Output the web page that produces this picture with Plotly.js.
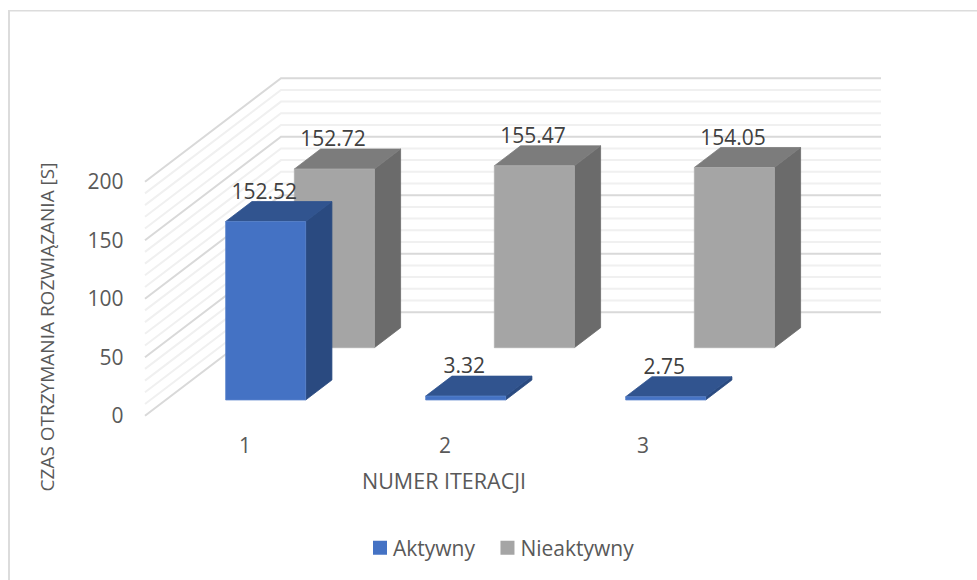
<!DOCTYPE html>
<html><head><meta charset="utf-8">
<script src="https://cdn.plot.ly/plotly-3.0.1.min.js"></script>
<style>html,body{margin:0;padding:0;background:#fff;overflow:hidden}#c{width:977px;height:580px}</style>
</head><body><div id="c"></div>
<script>
const categories = ['1','2','3'];
const seriesNames = ['Aktywny','Nieaktywny'];
const aktywny = [152.52,3.32,2.75];
const nieaktywny = [152.72,155.47,154.05];
const valueTicks = [0,50,100,150,200];
const minorTicks = [10,20,30,40,60,70,80,90,110,120,130,140,160,170,180,190];

// oblique projection of the 3D box into the x/y axes
const DX = 136/200, DY = 103.5/1.17;   // shift of the back wall, in axis units
const BAR = 0.4;                        // bar width in category units
const proj = (c,v,d) => [c + DX*d, v + DY*d];
function poly(pts){ const o={x:[],y:[]}; pts.forEach(p=>{o.x.push(p[0]);o.y.push(p[1]);}); o.x.push(pts[0][0],null); o.y.push(pts[0][1],null); return o; }
function merge(list){ return {x:[].concat(...list.map(p=>p.x)), y:[].concat(...list.map(p=>p.y))}; }
function faces(vals,d0,d1){
  const front=[],side=[],top=[];
  vals.forEach((v,i)=>{
    const a=i+0.5-BAR/2,b=i+0.5+BAR/2;
    front.push(poly([proj(a,0,d0),proj(b,0,d0),proj(b,v,d0),proj(a,v,d0)]));
    side.push(poly([proj(b,0,d0),proj(b,0,d1),proj(b,v,d1),proj(b,v,d0)]));
    top.push(poly([proj(a,v,d0),proj(b,v,d0),proj(b,v,d1),proj(a,v,d1)]));
  });
  return {front:merge(front),side:merge(side),top:merge(top)};
}
function gridTrace(ticks,color,w){
  const x=[],y=[];
  ticks.forEach(v=>{ const b=proj(0,v,1), e=proj(3,v,1); x.push(0,b[0],e[0],null); y.push(v,b[1],e[1],null); });
  return {type:'scatter',mode:'lines',x,y,line:{color,width:w},hoverinfo:'skip',showlegend:false};
}
function face(f,color,edge){
  return {type:'scatter',mode:'lines',x:f.x,y:f.y,fill:'toself',fillcolor:color,line:{color:edge,width:0.8},hoverinfo:'skip',showlegend:false};
}
function labels(vals,d0,d1){
  return {type:'scatter',mode:'text',x:vals.map((v,i)=>proj(i+0.5,v,d0)[0]-0.007),y:vals.map((v,i)=>proj(i+0.5,v,d1)[1]-2),
    text:vals.map(v=>v.toFixed(2)),textposition:'top center',textfont:{family:'Open Sans',size:21,color:'#404040'},hoverinfo:'skip',showlegend:false};
}
function swatch(name,color){
  return {type:'scatter',mode:'markers',x:[null],y:[null],name,marker:{symbol:'square',size:14,color},showlegend:true};
}
const blue=faces(aktywny,0.152,0.345), gray=faces(nieaktywny,0.657,0.85);
const traces=[
  gridTrace(minorTicks,'#f0f0f0',2),
  gridTrace(valueTicks,'#d9d9d9',2),
  face(gray.side,'#6b6b6b','#6b6b6b'), face(gray.top,'#7c7c7c','#7c7c7c'), face(gray.front,'#a5a5a5','#b0b0b0'),
  face(blue.side,'#2a4a80','#2a4a80'), face(blue.top,'#31548f','#31548f'), face(blue.front,'#4472c4','#5b84cc'),
  labels(nieaktywny,0.657,0.85), labels(aktywny,0.152,0.345),
  swatch(seriesNames[0],'#4472c4'), swatch(seriesNames[1],'#a5a5a5')
];
const W=977, H=580, L=7, R=881, T=74, B=580;
const pxX=200, pxY=1.17, X0=145, Y0=415.7;
const xpos=px=>(px-L)/(R-L), ypos=py=>(B-py)/(B-T);
const font={family:'Open Sans',color:'#595959'};
const layout={
  width:W,height:H,paper_bgcolor:'#fff',plot_bgcolor:'rgba(0,0,0,0)',
  margin:{l:L,r:W-R,t:T,b:H-B,autoexpand:false},
  font:{family:'Open Sans',size:21,color:'#595959'},
  xaxis:{range:[(L-X0)/pxX,(R-X0)/pxX],showgrid:false,zeroline:false,showline:false,ticks:'',
    anchor:'free',position:ypos(431),
    tickmode:'array',tickvals:[0.5,1.5,2.49],ticktext:categories,tickfont:{...font,size:21},
    title:{text:'NUMER ITERACJI',font:{...font,size:21.5},standoff:15},automargin:false,fixedrange:true},
  yaxis:{range:[(Y0-B)/pxY,(Y0-T)/pxY],showgrid:false,zeroline:false,showline:false,ticks:'',
    anchor:'free',position:xpos(123.5),
    tickmode:'array',tickvals:valueTicks,tickfont:{...font,size:21},
    title:{text:'CZAS OTRZYMANIA ROZWIĄZANIA [S]',font:{...font,size:19},standoff:26.5},automargin:false,fixedrange:true},
  legend:{orientation:'h',xref:'container',yref:'container',x:360/W,xanchor:'left',y:1-548/H,yanchor:'middle',
    font:{...font,size:21},bgcolor:'rgba(0,0,0,0)',traceorder:'normal'},
  shapes:[
    {type:'line',xref:'paper',yref:'paper',x0:xpos(9),x1:xpos(9),y0:ypos(10),y1:ypos(580),line:{width:2,color:'#dcdcdc'},layer:'below'},
    {type:'line',xref:'paper',yref:'paper',x0:xpos(8),x1:xpos(977),y0:ypos(10.8),y1:ypos(10.8),line:{width:1.5,color:'#dcdcdc'},layer:'below'}
  ],
  showlegend:true
};
Plotly.newPlot('c',traces,layout,{displayModeBar:false,staticPlot:true}).then(()=>{
  // tighten the gap between legend swatch and text
  document.querySelectorAll('#c .legendtext').forEach(t=>t.setAttribute('x',33));
});
</script></body></html>
